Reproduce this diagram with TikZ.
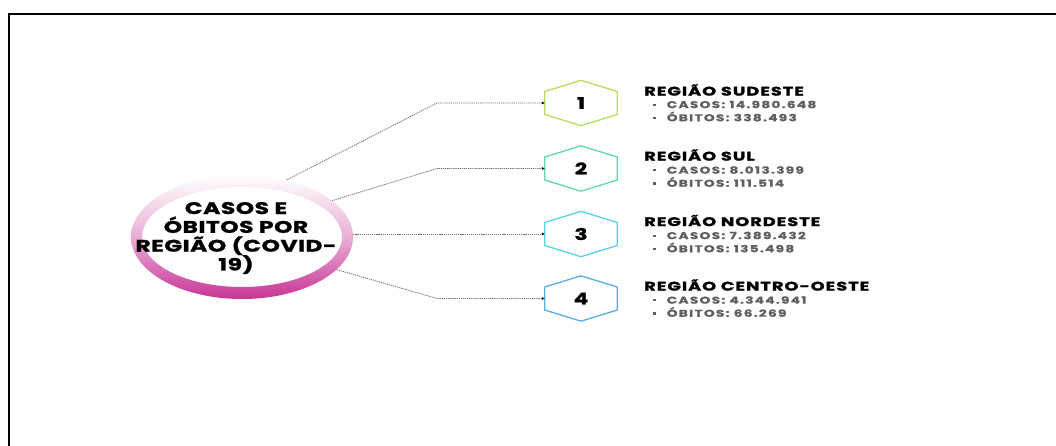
\documentclass[tikz,border=0pt]{standalone}
\usepackage{fontspec}
\setmainfont{Poppins}
\usetikzlibrary{shapes.geometric,arrows.meta,calc}
\definecolor{ringdark}{RGB}{200,52,150}
\definecolor{hexA}{RGB}{185,220,92}
\definecolor{hexB}{RGB}{95,217,181}
\definecolor{hexC}{RGB}{85,211,232}
\definecolor{hexD}{RGB}{90,174,230}
\definecolor{txtgray}{RGB}{95,95,95}
\definecolor{lnk}{RGB}{110,110,110}
\tikzset{
  hexbox/.style={rectangle, minimum width=72pt, minimum height=45pt, inner sep=0pt,
    font=\bfseries\fontsize{16}{17}\selectfont\addfontfeature{FakeStretch=1.35,FakeBold=1.5}},
  hexline/.style={line width=1.3pt, line join=miter},
  conn/.style={draw=lnk, line width=0.8pt, dash pattern=on 1.2pt off 0.9pt,
    -{Latex[length=3pt,width=3pt,black]}},
  regtitle/.style={anchor=west, inner sep=0pt,
    font=\bfseries\fontsize{12.5}{13}\selectfont\addfontfeature{FakeStretch=1.42,LetterSpace=8,FakeBold=1.5}},
  regitem/.style={anchor=west, inner sep=0pt, text=txtgray,
    font=\bfseries\fontsize{9.8}{10}\selectfont\addfontfeature{FakeStretch=1.4,LetterSpace=13,FakeBold=0.8}},
}
\newcommand{\mybul}{\textcolor{txtgray}{\rule[2.2pt]{2.6pt}{2.2pt}}\hspace{11pt}}
\begin{document}
\begin{tikzpicture}[x=1pt,y=-1pt]
\useasboundingbox (0,0) rectangle (1056,445);
\fill[white] (0,0) rectangle (1056,445);
% frame
\draw[line width=1.8pt] (9.2,446) -- (9.2,14.3) -- (1057,14.3);

% ring
\node[ellipse, minimum width=222pt, minimum height=124pt, inner sep=0pt] (ring) at (242,237) {};
\shade[top color=white, bottom color=ringdark, middle color=ringdark!40, even odd rule]
  (242,237) ellipse [x radius=111, y radius=62]
  (242,237) ellipse [x radius=100, y radius=50];
\node[align=center, font=\bfseries\fontsize{16.7}{18.8}\selectfont\addfontfeature{FakeStretch=1.4,LetterSpace=3,FakeBold=1.5}] (title) at (236,238)
  {CASOS E\\ÓBITOS POR\\REGIÃO (COVID-\\19)};

% hexagons
\foreach \n/\yy/\col in {1/103/hexA, 2/168.5/hexB, 3/234/hexC, 4/298.5/hexD}{
  \node[hexbox] (h\n) at (581,\yy) {\n};
  \draw[hexline, draw=\col] (h\n.north) -- ([yshift=11.5pt]h\n.east) -- ([yshift=-11.5pt]h\n.east)
    -- (h\n.south) -- ([yshift=-11.5pt]h\n.west) -- ([yshift=11.5pt]h\n.west) -- cycle;
}

% connectors
\coordinate (k1) at (437,103);
\coordinate (k2) at (437,168.5);
\coordinate (k4) at (437,298.5);
\draw[conn] (ring.52) -- (k1) -- (h1.west);
\draw[conn] (ring.22) -- (k2) -- (h2.west);
\draw[conn] (ring.east |- h3.west) -- (h3.west);
\draw[conn] (ring.-19) -- (k4) -- (h4.west);

% texts
\node[regtitle] (r1) at (644,90) {REGIÃO SUDESTE};
\node[regitem] (r1a) at (653,104.5) {\mybul CASOS: 14.980.648};
\node[regitem] (r1b) at (653,116.5) {\mybul ÓBITOS: 338.493};

\node[regtitle] (r2) at (644,155) {REGIÃO SUL};
\node[regitem] (r2a) at (653,170) {\mybul CASOS: 8.013.399};
\node[regitem] (r2b) at (653,182) {\mybul ÓBITOS: 111.514};

\node[regtitle] (r3) at (644,220.5) {REGIÃO NORDESTE};
\node[regitem] (r3a) at (653,235.5) {\mybul CASOS: 7.389.432};
\node[regitem] (r3b) at (653,247.5) {\mybul ÓBITOS: 135.498};

\node[regtitle] (r4) at (644,285) {REGIÃO CENTRO-OESTE};
\node[regitem] (r4a) at (653,300) {\mybul CASOS: 4.344.941};
\node[regitem] (r4b) at (653,312) {\mybul ÓBITOS: 66.269};
\end{tikzpicture}
\end{document}
